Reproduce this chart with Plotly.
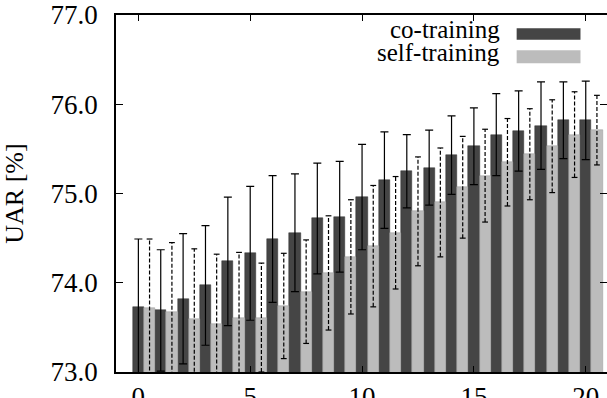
import plotly.graph_objects as go

# ---- data ----
iterations = list(range(21))
co_training = [73.73, 73.69, 73.82, 73.97, 74.24, 74.33, 74.49, 74.56, 74.72, 74.74,
               74.96, 75.15, 75.25, 75.29, 75.43, 75.53, 75.66, 75.70, 75.76, 75.82, 75.82]
co_training_err = [0.76, 0.68, 0.73, 0.67, 0.72, 0.75, 0.71, 0.66, 0.62, 0.62,
                   0.59, 0.54, 0.41, 0.42, 0.44, 0.43, 0.46, 0.45, 0.49, 0.43, 0.44]
self_training = [73.72, 73.67, 73.59, 73.54, 73.60, 73.61, 73.74, 73.90, 74.11, 74.29,
                 74.41, 74.56, 74.80, 74.90, 75.07, 75.20, 75.35, 75.44, 75.53, 75.66, 75.71]
self_training_err = [0.77, 0.78, 0.79, 0.78, 0.74, 0.61, 0.59, 0.58, 0.64, 0.64,
                     0.68, 0.63, 0.61, 0.61, 0.57, 0.52, 0.49, 0.51, 0.52, 0.48, 0.39]
x_ticks = [0, 5, 10, 15, 20]
y_ticks = [73.0, 74.0, 75.0, 76.0, 77.0]
series_names = ["co-training", "self-training"]

DARK = "#454545"
LIGHT = "#bcbcbc"
FONT = "Liberation Serif"
BAR_W = 0.5
OFFSET = 0.5

x_co = [i for i in iterations]
x_self = [i + OFFSET for i in iterations]

fig = go.Figure()
fig.add_trace(go.Bar(
    x=x_co, y=co_training, base=0, width=BAR_W, name=series_names[0],
    marker=dict(color=DARK, line=dict(color="#333333", width=0.5)),
    error_y=dict(type="data", array=co_training_err, color="black", thickness=1.2, width=4),
    showlegend=False,
))
fig.add_trace(go.Bar(
    x=x_self, y=self_training, base=0, width=BAR_W, name=series_names[1],
    marker=dict(color=LIGHT, line=dict(color="#9a9a9a", width=0.5)),
    showlegend=False,
))

# dashed error bars for self-training
ex, ey, cx, cy = [], [], [], []
cap = 0.13
for xv, v, e in zip(x_self, self_training, self_training_err):
    ex += [xv, xv, None]
    ey += [v - e, v + e, None]
    for yy in (v - e, v + e):
        cx += [xv - cap, xv + cap, None]
        cy += [yy, yy, None]
fig.add_trace(go.Scatter(x=ex, y=ey, mode="lines", line=dict(color="black", width=1.2, dash="4px,2px"),
                         showlegend=False, hoverinfo="skip"))
fig.add_trace(go.Scatter(x=cx, y=cy, mode="lines", line=dict(color="black", width=1.2),
                         showlegend=False, hoverinfo="skip"))

# custom legend (text left of swatch, as in the reference)
legend_rows = [(series_names[0], DARK, 0.963, 0.931), (series_names[1], LIGHT, 0.901, 0.865)]
for name, col, y1, y0 in legend_rows:
    fig.add_shape(type="rect", xref="paper", yref="paper", x0=0.816, x1=0.946, y0=y0, y1=y1,
                  fillcolor=col, line=dict(width=0), layer="above")
    fig.add_annotation(xref="paper", yref="paper", x=0.787, y=(y0 + y1) / 2 + 0.013, text=name,
                       showarrow=False, xanchor="right", yanchor="middle",
                       font=dict(family=FONT, size=25, color="black"))

fig.update_layout(
    width=607, height=398,
    margin=dict(l=116, r=0, t=14.5, b=25.7, autoexpand=False),
    paper_bgcolor="white", plot_bgcolor="white",
    barmode="overlay",
    font=dict(family=FONT, size=27, color="black"),
    bargap=0,
)
fig.update_xaxes(
    range=[-1, 20.95], tickvals=x_ticks, ticktext=[str(t) for t in x_ticks],
    ticks="inside", ticklen=6, tickcolor="black", mirror="ticks",
    showline=True, linecolor="black", linewidth=1.5, showgrid=False, zeroline=False,
    ticklabelstandoff=0, automargin=False, ticklabeloverflow="allow",
)
fig.update_yaxes(
    range=[73, 77], tickvals=y_ticks, ticktext=[f"{t:.1f}" for t in y_ticks],
    ticks="inside", ticklen=7, tickcolor="black", mirror="ticks",
    showline=True, linecolor="black", linewidth=1.5, showgrid=False, zeroline=False,
    ticklabelstandoff=11, automargin=False, ticklabeloverflow="allow",
    title=dict(text="UAR [%]", standoff=26, font=dict(family=FONT, size=26)),
)

# remove the default page margin so the figure sits at the window's top-left corner
fig.write_html("out.html", config={"displayModeBar": False},
               post_script="document.body.style.margin='0';")
